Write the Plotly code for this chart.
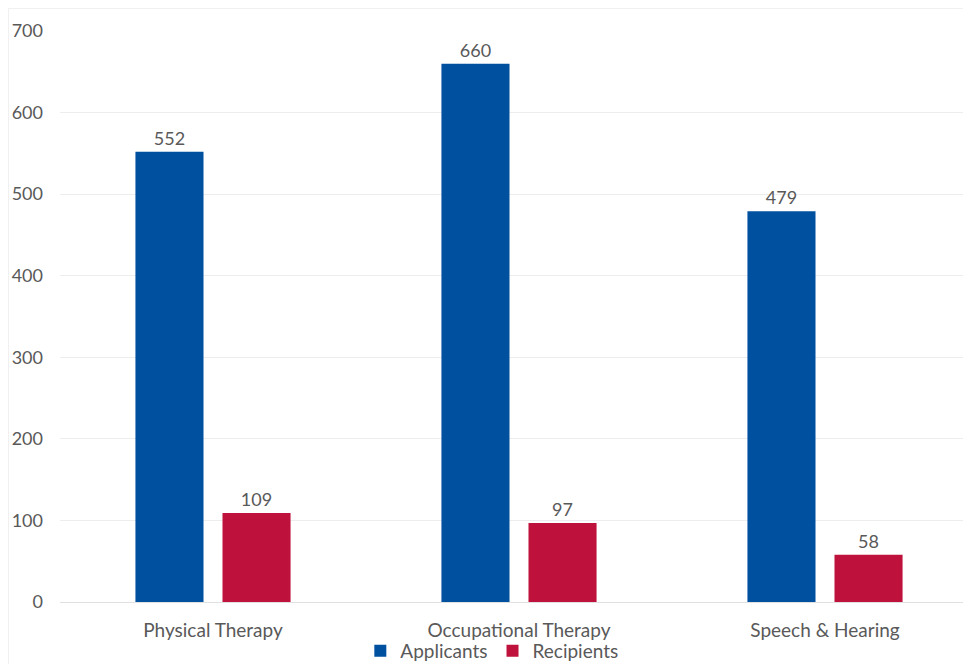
import plotly.graph_objects as go

categories = ["Physical Therapy", "Occupational Therapy", "Speech & Hearing"]
applicants = [552, 660, 479]
recipients = [109, 97, 58]
y_ticks = [0, 100, 200, 300, 400, 500, 600, 700]

FONT = "Lato, 'Open Sans', sans-serif"
GRAY = "#595959"

fig = go.Figure()
fig.add_trace(go.Bar(
    x=categories, y=applicants, name="Applicants",
    marker=dict(color="#0050A0", line=dict(width=0)),
    text=applicants, textposition="outside",
    textfont=dict(size=18, color=GRAY, family=FONT), cliponaxis=False,
))
fig.add_trace(go.Bar(
    x=categories, y=recipients, name="Recipients",
    marker=dict(color="#BE123C", line=dict(width=0)),
    text=recipients, textposition="outside",
    textfont=dict(size=18, color=GRAY, family=FONT), cliponaxis=False,
))

# page body has an 8px default margin, so the figure is sized/offset for it
W, H = 963, 656
L, T, B = 52, 23, 62
PW, PH = W - L, H - T - B
CAT_PX = 306  # pixels per category in the reference (plot runs past the right edge)

fig.update_layout(
    width=W, height=H,
    margin=dict(l=L, r=0, t=T, b=B, autoexpand=False),
    paper_bgcolor="white", plot_bgcolor="white",
    barmode="group", bargap=0.431, bargroupgap=0.218,
    font=dict(family=FONT, color=GRAY, size=17),
    showlegend=True,
    legend=dict(orientation="h", xref="paper", x=0.474, xanchor="center",
                yref="container", y=1 - 643 / H, yanchor="middle",
                bgcolor="rgba(0,0,0,0)",
                font=dict(size=19, color=GRAY, family=FONT), itemwidth=30,
                traceorder="normal"),
    xaxis=dict(showgrid=False, showline=False, ticks="", automargin=False,
               range=[-0.5, -0.5 + PW / CAT_PX],
               ticklabelstandoff=15,
               tickfont=dict(size=19, color=GRAY, family=FONT)),
    yaxis=dict(range=[0, 700], tickvals=y_ticks, showgrid=True, gridcolor="#EDEDED",
               gridwidth=1, zeroline=True, zerolinecolor="#E0E0E0", zerolinewidth=1,
               showline=False, ticks="", ticklabelstandoff=16, automargin=False,
               tickfont=dict(size=18, color=GRAY, family=FONT)),
    shapes=[dict(type="rect", xref="paper", yref="paper",
                 x0=(-L + 0.5) / PW, x1=1 + 20 / PW, y0=-(B + 20) / PH, y1=1 + (T - 0.5) / PH,
                 line=dict(color="#F0F0F0", width=1), fillcolor="rgba(0,0,0,0)", layer="below")],
)

fig.write_html("out.html")
